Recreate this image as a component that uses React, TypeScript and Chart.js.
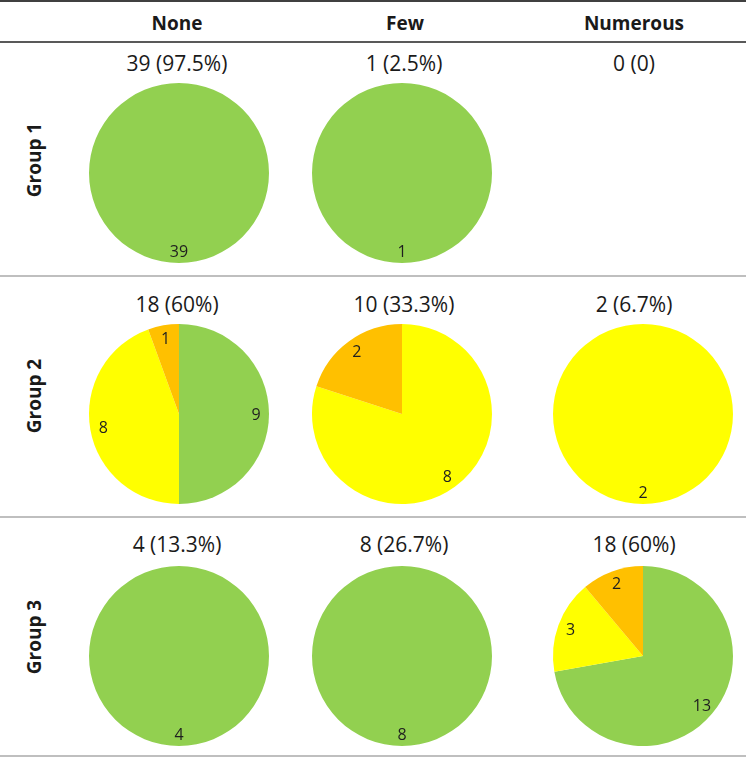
import React, { useEffect, useRef } from 'react';
import { Chart, PieController, ArcElement } from 'chart.js';

Chart.register(PieController, ArcElement);

// ---- data ----
const columns = ['None', 'Few', 'Numerous'];
const groups = ['Group 1', 'Group 2', 'Group 3'];
const levels = ['Green', 'Yellow', 'Orange'];
const levelColors = ['#92D050', '#FFFF00', '#FFC000'];

const group1Values = [[39, 0, 0], [1, 0, 0], [0, 0, 0]];
const group2Values = [[9, 8, 1], [0, 8, 2], [0, 2, 0]];
const group3Values = [[4, 0, 0], [8, 0, 0], [13, 3, 2]];

const group1Titles = ['39 (97.5%)', '1 (2.5%)', '0 (0)'];
const group2Titles = ['18 (60%)', '10 (33.3%)', '2 (6.7%)'];
const group3Titles = ['4 (13.3%)', '8 (26.7%)', '18 (60%)'];

const allValues = [group1Values, group2Values, group3Values];
const allTitles = [group1Titles, group2Titles, group3Titles];

// ---- layout ----
const FONT = '"Open Sans", "Noto Sans", sans-serif';
const headerX = [177, 405, 634];
const titleX = [177, 404, 634];
const pieX = [179, 402, 643];
const headerY = 22.5;
const titleY = [63, 304, 544];
const pieY = [173, 414, 656];
const groupLabelY = [160, 396, 637];
const PIE_R = 90;
const PAD = 4;

const sliceLabelPlugin = {
  id: 'sliceLabels',
  afterDatasetsDraw(chart: any) {
    const ctx = chart.ctx;
    const meta = chart.getDatasetMeta(0);
    const data = chart.data.datasets[0].data as number[];
    ctx.save();
    ctx.font = '16px ' + FONT;
    ctx.fillStyle = '#1f1f1f';
    ctx.textAlign = 'center';
    ctx.textBaseline = 'middle';
    meta.data.forEach((arc: any, i: number) => {
      const v = data[i];
      if (!v) return;
      const p = arc.getProps(['x', 'y', 'startAngle', 'endAngle', 'outerRadius'], true);
      const mid = (p.startAngle + p.endAngle) / 2;
      const full = p.endAngle - p.startAngle > Math.PI * 1.99;
      const r = p.outerRadius * (full ? 0.87 : 0.855);
      ctx.fillText(String(v), p.x + Math.cos(mid) * r, p.y + Math.sin(mid) * r + 1);
    });
    ctx.restore();
  },
};

function Pie({ values, left, top }: { values: number[]; left: number; top: number }) {
  const ref = useRef<HTMLCanvasElement | null>(null);
  useEffect(() => {
    if (!ref.current) return;
    const chart = new Chart(ref.current, {
      type: 'pie',
      data: {
        labels: levels,
        datasets: [
          {
            data: values,
            backgroundColor: levelColors,
            borderWidth: 0,
          },
        ],
      },
      options: {
        animation: false,
        responsive: false,
        devicePixelRatio: 1,
        layout: { padding: PAD },
        plugins: { legend: { display: false }, tooltip: { enabled: false } },
        events: [],
      },
      plugins: [sliceLabelPlugin],
    });
    return () => chart.destroy();
  }, [values]);
  const size = PIE_R * 2 + PAD * 2;
  return (
    <canvas
      ref={ref}
      width={size}
      height={size}
      style={{ position: 'absolute', left: left - size / 2, top: top - size / 2, width: size, height: size }}
    />
  );
}

function Line({ y, h, color }: { y: number; h: number; color: string }) {
  return <div style={{ position: 'absolute', left: 0, top: y, width: 746, height: h, background: color }} />;
}

export default function App() {
  useEffect(() => {
    document.body.style.margin = '0';
  }, []);
  const textBase: React.CSSProperties = {
    position: 'absolute',
    width: 240,
    textAlign: 'center',
    fontFamily: FONT,
    color: '#1a1a1a',
    whiteSpace: 'nowrap',
  };
  return (
    <div style={{ position: 'absolute', left: 0, top: 0, width: 746, height: 758, background: '#fff', overflow: 'hidden' }}>
      <Line y={0} h={2} color="#404040" />
      <Line y={41} h={2} color="#595959" />
      <Line y={275} h={2} color="#bfbfbf" />
      <Line y={516} h={2} color="#bfbfbf" />
      <Line y={755} h={2} color="#bfbfbf" />
      {columns.map((c, i) => (
        <div
          key={c}
          style={{ ...textBase, left: headerX[i] - 120, top: headerY - 13, lineHeight: '26px', fontSize: 19, fontWeight: 700 }}
        >
          {c}
        </div>
      ))}
      {groups.map((g, r) => (
        <div
          key={g}
          style={{
            ...textBase,
            left: 33.5 - 120,
            top: groupLabelY[r] - 13,
            lineHeight: '26px',
            fontSize: 19,
            fontWeight: 700,
            transform: 'rotate(-90deg)',
            transformOrigin: 'center center',
          }}
        >
          {g}
        </div>
      ))}
      {allTitles.map((row, r) =>
        row.map((t, c) => (
          <div
            key={r + '-' + c}
            style={{ ...textBase, left: titleX[c] - 120, top: titleY[r] - 13, lineHeight: '26px', fontSize: 21 }}
          >
            {t}
          </div>
        ))
      )}
      {allValues.map((row, r) =>
        row.map((v, c) => <Pie key={r + '_' + c} values={v} left={pieX[c]} top={pieY[r]} />)
      )}
    </div>
  );
}
